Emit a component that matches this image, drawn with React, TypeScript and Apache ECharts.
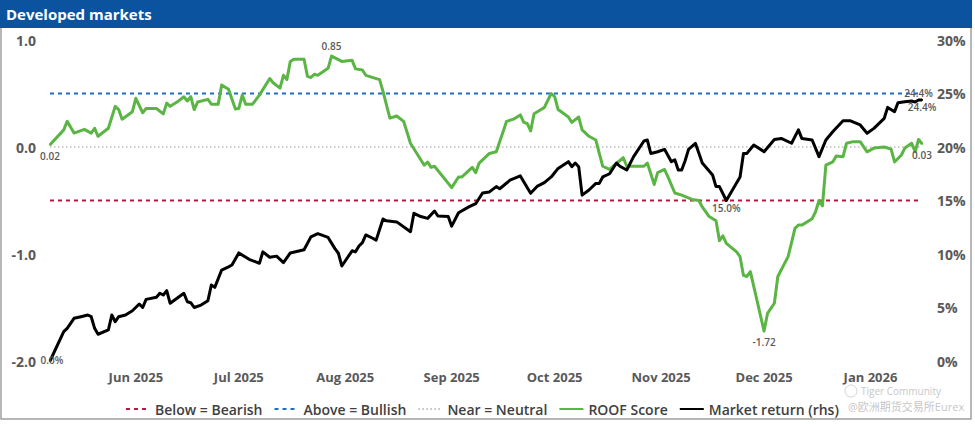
import React, { useEffect, useRef } from 'react';
import * as echarts from 'echarts';

const START_DATE = '2025-05-07';
const END_DATE = '2026-01-16';

const BEARISH_LEVEL = -0.5;
const BULLISH_LEVEL = 0.5;
const NEUTRAL_LEVEL = 0;

const roofScore: [string, number][] = [
  ['2025-05-07', 0.02], ['2025-05-11', 0.16], ['2025-05-12', 0.24], ['2025-05-14', 0.13], ['2025-05-17', 0.165],
  ['2025-05-19', 0.13], ['2025-05-20', 0.175], ['2025-05-21', 0.10], ['2025-05-24', 0.175], ['2025-05-26', 0.38],
  ['2025-05-27', 0.35], ['2025-05-28', 0.26], ['2025-05-31', 0.33], ['2025-06-01', 0.455], ['2025-06-03', 0.32],
  ['2025-06-04', 0.36], ['2025-06-07', 0.36], ['2025-06-09', 0.31], ['2025-06-10', 0.41], ['2025-06-11', 0.38],
  ['2025-06-13', 0.42], ['2025-06-15', 0.47], ['2025-06-16', 0.43], ['2025-06-17', 0.47], ['2025-06-18', 0.35],
  ['2025-06-19', 0.42], ['2025-06-22', 0.445], ['2025-06-23', 0.40], ['2025-06-25', 0.40], ['2025-06-26', 0.58],
  ['2025-06-28', 0.54], ['2025-06-30', 0.355], ['2025-07-01', 0.36], ['2025-07-02', 0.485], ['2025-07-03', 0.40],
  ['2025-07-05', 0.40], ['2025-07-07', 0.485], ['2025-07-10', 0.64], ['2025-07-11', 0.60], ['2025-07-13', 0.55],
  ['2025-07-14', 0.67], ['2025-07-15', 0.63], ['2025-07-16', 0.80], ['2025-07-17', 0.82], ['2025-07-20', 0.82],
  ['2025-07-21', 0.66], ['2025-07-22', 0.65], ['2025-07-23', 0.68], ['2025-07-24', 0.67], ['2025-07-27', 0.735],
  ['2025-07-28', 0.85], ['2025-07-31', 0.80], ['2025-08-03', 0.81], ['2025-08-04', 0.73], ['2025-08-06', 0.72],
  ['2025-08-07', 0.67], ['2025-08-11', 0.63], ['2025-08-12', 0.52], ['2025-08-14', 0.27], ['2025-08-16', 0.29],
  ['2025-08-18', 0.24], ['2025-08-20', 0.035], ['2025-08-24', -0.17], ['2025-08-25', -0.14], ['2025-08-26', -0.19],
  ['2025-08-27', -0.18], ['2025-09-01', -0.38], ['2025-09-03', -0.28], ['2025-09-04', -0.28], ['2025-09-07', -0.19],
  ['2025-09-08', -0.24], ['2025-09-09', -0.15], ['2025-09-10', -0.12], ['2025-09-12', -0.06], ['2025-09-14', -0.045],
  ['2025-09-17', 0.24], ['2025-09-19', 0.26], ['2025-09-21', 0.30], ['2025-09-22', 0.23], ['2025-09-23', 0.22],
  ['2025-09-24', 0.15], ['2025-09-25', 0.31], ['2025-09-28', 0.37], ['2025-09-30', 0.50], ['2025-10-01', 0.47],
  ['2025-10-02', 0.35], ['2025-10-05', 0.28], ['2025-10-06', 0.23], ['2025-10-08', 0.28], ['2025-10-09', 0.16],
  ['2025-10-11', 0.10], ['2025-10-13', 0.065], ['2025-10-14', -0.06], ['2025-10-15', -0.18], ['2025-10-17', -0.21],
  ['2025-10-18', -0.18], ['2025-10-21', -0.10], ['2025-10-22', -0.18], ['2025-10-23', -0.18], ['2025-10-27', -0.18],
  ['2025-10-28', -0.15], ['2025-10-30', -0.35], ['2025-10-31', -0.24], ['2025-11-02', -0.21], ['2025-11-03', -0.28],
  ['2025-11-05', -0.43], ['2025-11-07', -0.45], ['2025-11-10', -0.49], ['2025-11-12', -0.50], ['2025-11-13', -0.56],
  ['2025-11-15', -0.65], ['2025-11-17', -0.69], ['2025-11-18', -0.875], ['2025-11-19', -0.83], ['2025-11-20', -0.90],
  ['2025-11-23', -0.98], ['2025-11-24', -1.025], ['2025-11-25', -1.20], ['2025-11-26', -1.21], ['2025-11-27', -1.165],
  ['2025-12-01', -1.72], ['2025-12-02', -1.555], ['2025-12-04', -1.46], ['2025-12-05', -1.21], ['2025-12-08', -1.025],
  ['2025-12-10', -0.76], ['2025-12-11', -0.73], ['2025-12-12', -0.73], ['2025-12-15', -0.67], ['2025-12-16', -0.605],
  ['2025-12-17', -0.50], ['2025-12-18', -0.55], ['2025-12-19', -0.17], ['2025-12-21', -0.14], ['2025-12-22', -0.085],
  ['2025-12-24', -0.09], ['2025-12-25', 0.035], ['2025-12-27', 0.05], ['2025-12-29', 0.05], ['2025-12-31', -0.045],
  ['2026-01-02', -0.01], ['2026-01-05', 0.00], ['2026-01-07', -0.02], ['2026-01-08', -0.14], ['2026-01-10', -0.075],
  ['2026-01-11', -0.01], ['2026-01-13', 0.035], ['2026-01-14', -0.045], ['2026-01-15', 0.07], ['2026-01-16', 0.03],
];

const marketReturn: [string, number][] = [
  ['2025-05-07', 0.0], ['2025-05-11', 2.74], ['2025-05-12', 3.05], ['2025-05-14', 3.99], ['2025-05-16', 4.14],
  ['2025-05-18', 4.3], ['2025-05-19', 4.14], ['2025-05-20', 3.05], ['2025-05-21', 2.5], ['2025-05-24', 2.9],
  ['2025-05-25', 4.3], ['2025-05-26', 3.67], ['2025-05-27', 4.14], ['2025-05-29', 4.3], ['2025-05-31', 4.7],
  ['2025-06-02', 5.33], ['2025-06-03', 5.0], ['2025-06-04', 5.76], ['2025-06-07', 5.95], ['2025-06-08', 6.33],
  ['2025-06-09', 6.17], ['2025-06-10', 6.57], ['2025-06-11', 5.39], ['2025-06-13', 5.86], ['2025-06-15', 6.33],
  ['2025-06-16', 5.54], ['2025-06-17', 5.45], ['2025-06-18', 5.0], ['2025-06-20', 5.23], ['2025-06-22', 5.64],
  ['2025-06-23', 7.1], ['2025-06-24', 6.88], ['2025-06-26', 8.5], ['2025-06-28', 8.8], ['2025-06-29', 8.97],
  ['2025-07-01', 10.1], ['2025-07-04', 9.5], ['2025-07-07', 9.13], ['2025-07-08', 10.2], ['2025-07-10', 9.7],
  ['2025-07-12', 9.8], ['2025-07-14', 9.2], ['2025-07-16', 10.1], ['2025-07-20', 10.4], ['2025-07-22', 11.6],
  ['2025-07-24', 11.9], ['2025-07-27', 11.55], ['2025-07-29', 10.5], ['2025-07-30', 10.07], ['2025-07-31', 8.88],
  ['2025-08-03', 10.3], ['2025-08-04', 10.2], ['2025-08-05', 10.75], ['2025-08-06', 11.06], ['2025-08-07', 11.78],
  ['2025-08-09', 11.47], ['2025-08-10', 11.3], ['2025-08-12', 13.27], ['2025-08-13', 13.1], ['2025-08-16', 13.0],
  ['2025-08-20', 12.08], ['2025-08-21', 13.8], ['2025-08-23', 13.5], ['2025-08-25', 13.33], ['2025-08-27', 14.02],
  ['2025-08-28', 13.55], ['2025-08-31', 13.5], ['2025-09-01', 12.6], ['2025-09-03', 13.86], ['2025-09-06', 14.4],
  ['2025-09-08', 14.7], ['2025-09-10', 15.7], ['2025-09-12', 15.8], ['2025-09-14', 16.3], ['2025-09-15', 16.1],
  ['2025-09-18', 16.9], ['2025-09-21', 17.3], ['2025-09-24', 15.67], ['2025-09-26', 16.35], ['2025-09-28', 16.67],
  ['2025-09-30', 17.2], ['2025-10-02', 18.0], ['2025-10-05', 18.63], ['2025-10-06', 18.16], ['2025-10-07', 18.5],
  ['2025-10-08', 18.16], ['2025-10-09', 15.5], ['2025-10-11', 15.98], ['2025-10-13', 16.6], ['2025-10-14', 16.6],
  ['2025-10-15', 17.2], ['2025-10-17', 17.5], ['2025-10-19', 18.5], ['2025-10-20', 18.2], ['2025-10-22', 17.85],
  ['2025-10-24', 19.1], ['2025-10-27', 20.56], ['2025-10-28', 20.65], ['2025-10-29', 19.4], ['2025-10-31', 19.56],
  ['2025-11-02', 19.78], ['2025-11-04', 18.63], ['2025-11-05', 18.8], ['2025-11-06', 17.85], ['2025-11-07', 17.85],
  ['2025-11-08', 18.72], ['2025-11-09', 19.78], ['2025-11-11', 20.34], ['2025-11-13', 18.5], ['2025-11-16', 17.38],
  ['2025-11-17', 16.3], ['2025-11-18', 16.3], ['2025-11-20', 15.0], ['2025-11-22', 16.1], ['2025-11-24', 17.2],
  ['2025-11-25', 19.4], ['2025-11-26', 19.4], ['2025-11-28', 20.19], ['2025-12-01', 19.56], ['2025-12-04', 20.7],
  ['2025-12-06', 20.8], ['2025-12-09', 20.35], ['2025-12-11', 21.6], ['2025-12-12', 20.8], ['2025-12-15', 20.65],
  ['2025-12-17', 19.1], ['2025-12-19', 20.65], ['2025-12-21', 21.43], ['2025-12-24', 22.46], ['2025-12-26', 22.46],
  ['2025-12-29', 22.06], ['2025-12-31', 21.28], ['2026-01-02', 21.74], ['2026-01-05', 22.68], ['2026-01-06', 23.7],
  ['2026-01-08', 23.3], ['2026-01-09', 24.14], ['2026-01-11', 24.23], ['2026-01-13', 24.3], ['2026-01-14', 24.2],
  ['2026-01-15', 24.4], ['2026-01-16', 24.4],
];

// Dates of points carrying a value label on the return line, with label side
const returnLabelDates: [string, string][] = [
  ['2025-05-07', 'inside'],
  ['2025-11-20', 'bottom'],
  ['2026-01-15', 'top'],
  ['2026-01-16', 'bottom'],
];

const MONTH_NAMES = ['Jan', 'Feb', 'Mar', 'Apr', 'May', 'Jun', 'Jul', 'Aug', 'Sep', 'Oct', 'Nov', 'Dec'];

const FONT = '"Open Sans", "Noto Sans", sans-serif';
const AXIS_GRAY = '#595959';
const GREEN = '#5BB544';
const RED = '#C0143C';
const BLUE = '#1F6FC4';
const NEUTRAL_GRAY = '#BFBFBF';

const pointLabel = {
  show: true,
  fontSize: 10,
  color: '#595959',
  fontFamily: FONT,
  fontWeight: 600 as any,
};

function roofMarks() {
  let maxI = 0;
  let minI = 0;
  roofScore.forEach((d, i) => {
    if (d[1] > roofScore[maxI][1]) maxI = i;
    if (d[1] < roofScore[minI][1]) minI = i;
  });
  const last = roofScore.length - 1;
  const marks: [number, string][] = [[0, 'bottom'], [maxI, 'top'], [minI, 'bottom'], [last, 'bottom']];
  return marks.map(([i, pos]) => ({
    coord: roofScore[i],
    value: roofScore[i][1],
    label: { position: pos, distance: pos === 'top' ? 4 : 5 },
  }));
}

function returnMarks() {
  return returnLabelDates
    .map(([date, pos]) => {
      const pt = marketReturn.find((d) => d[0] === date);
      if (!pt) return null;
      return {
        coord: pt,
        value: pt[1],
        label: { position: pos, distance: 1, offset: pos === 'inside' ? [2, -1] : [0, 0] },
      };
    })
    .filter(Boolean);
}

export default function App() {
  const ref = useRef<HTMLDivElement>(null);

  useEffect(() => {
    if (!ref.current) return;
    const chart = echarts.init(ref.current, null, { renderer: 'svg' });
    const DAY = 24 * 3600 * 1000;

    const option: any = {
      animation: false,
      backgroundColor: '#ffffff',
      textStyle: { fontFamily: FONT },
      grid: { left: 50, right: 53, top: 40, bottom: 63, containLabel: false },
      legend: {
        left: 120,
        top: 397,
        itemWidth: 24,
        itemHeight: 12,
        itemGap: 11,
        itemStyle: { opacity: 0 },
        textStyle: { fontSize: 14, fontWeight: 600, color: '#404040', fontFamily: FONT },
        data: ['Below = Bearish', 'Above = Bullish', 'Near = Neutral', 'ROOF Score', 'Market return (rhs)'],
      },
      xAxis: {
        type: 'time',
        min: START_DATE,
        max: END_DATE,
        minInterval: 28 * DAY,
        maxInterval: 32 * DAY,
        axisLine: { show: false },
        axisTick: { show: false },
        splitLine: { show: false },
        axisLabel: {
          fontSize: 13,
          fontWeight: 'bold',
          color: AXIS_GRAY,
          fontFamily: FONT,
          margin: 9,
          formatter: (v: number) => {
            const d = new Date(v);
            return MONTH_NAMES[d.getMonth()] + ' ' + d.getFullYear();
          },
        },
      },
      yAxis: [
        {
          type: 'value',
          min: -2,
          max: 1,
          interval: 1,
          axisLine: { show: false },
          axisTick: { show: false },
          splitLine: { show: false },
          axisLabel: {
            fontSize: 14,
            fontWeight: 'bold',
            color: AXIS_GRAY,
            fontFamily: FONT,
            margin: 14,
            formatter: (v: number) => v.toFixed(1),
          },
        },
        {
          type: 'value',
          min: 0,
          max: 30,
          interval: 5,
          position: 'right',
          axisLine: { show: false },
          axisTick: { show: false },
          splitLine: { show: false },
          axisLabel: {
            fontSize: 14,
            fontWeight: 'bold',
            color: AXIS_GRAY,
            fontFamily: FONT,
            margin: 15,
            formatter: '{value}%',
          },
        },
      ],
      series: [
        {
          name: 'Below = Bearish',
          type: 'line',
          yAxisIndex: 0,
          symbol: 'none',
          silent: true,
          lineStyle: { color: RED, width: 2, type: [4, 4] },
          itemStyle: { color: RED },
          data: [[START_DATE, BEARISH_LEVEL], [END_DATE, BEARISH_LEVEL]],
        },
        {
          name: 'Above = Bullish',
          type: 'line',
          yAxisIndex: 0,
          symbol: 'none',
          silent: true,
          lineStyle: { color: BLUE, width: 2, type: [4, 4] },
          itemStyle: { color: BLUE },
          data: [[START_DATE, BULLISH_LEVEL], [END_DATE, BULLISH_LEVEL]],
        },
        {
          name: 'Near = Neutral',
          type: 'line',
          yAxisIndex: 0,
          symbol: 'none',
          silent: true,
          lineStyle: { color: NEUTRAL_GRAY, width: 1.5, type: [1.5, 2.5] },
          itemStyle: { color: NEUTRAL_GRAY },
          data: [[START_DATE, NEUTRAL_LEVEL], [END_DATE, NEUTRAL_LEVEL]],
        },
        {
          name: 'ROOF Score',
          type: 'line',
          yAxisIndex: 0,
          symbol: 'none',
          lineStyle: { color: GREEN, width: 3, join: 'round' },
          itemStyle: { color: GREEN },
          data: roofScore,
          markPoint: {
            symbol: 'circle',
            symbolSize: 2,
            silent: true,
            itemStyle: { color: GREEN },
            label: { ...pointLabel, formatter: (p: any) => Number(p.value).toFixed(2) },
            data: roofMarks(),
          },
        },
        {
          name: 'Market return (rhs)',
          type: 'line',
          yAxisIndex: 1,
          symbol: 'none',
          lineStyle: { color: '#000000', width: 3, join: 'round' },
          itemStyle: { color: '#000000' },
          data: marketReturn,
          markPoint: {
            symbol: 'circle',
            symbolSize: 2,
            silent: true,
            itemStyle: { color: '#000000' },
            label: { ...pointLabel, formatter: (p: any) => Number(p.value).toFixed(1) + '%' },
            data: returnMarks(),
          },
        },
      ],
      graphic: [
        {
          type: 'rect',
          silent: true,
          z: -1,
          shape: { x: 1, y: 1, width: 970, height: 418 },
          style: { fill: 'none', stroke: '#A0A0A0', lineWidth: 1.5 },
        },
        {
          type: 'rect',
          silent: true,
          shape: { x: 0, y: 0, width: 972, height: 28 },
          style: { fill: '#0B539E' },
        },
        {
          type: 'text',
          silent: true,
          x: 6,
          y: 14,
          style: {
            text: 'Developed markets',
            fill: '#ffffff',
            font: `bold 15px ${FONT}`,
            verticalAlign: 'middle',
          },
        },
        {
          type: 'circle',
          silent: true,
          shape: { cx: 851, cy: 391, r: 6 },
          style: { fill: 'none', stroke: '#D4D4D4', lineWidth: 1 },
        },
        {
          type: 'text',
          silent: true,
          x: 861,
          y: 391,
          style: {
            text: 'Tiger Community',
            fill: '#C8C8C8',
            font: `10px ${FONT}`,
            verticalAlign: 'middle',
          },
        },
        {
          type: 'text',
          silent: true,
          x: 848,
          y: 406,
          z: 100,
          style: {
            text: '@欧洲期货交易所Eurex',
            fill: 'rgba(190,190,190,0.9)',
            font: `11px "Open Sans", "Noto Sans CJK SC", sans-serif`,
            verticalAlign: 'middle',
          },
        },
      ],
    };

    chart.setOption(option);
    return () => chart.dispose();
  }, []);

  return (
    <div
      ref={ref}
      style={{ position: 'absolute', left: 0, top: 0, width: 975, height: 424 }}
    />
  );
}
